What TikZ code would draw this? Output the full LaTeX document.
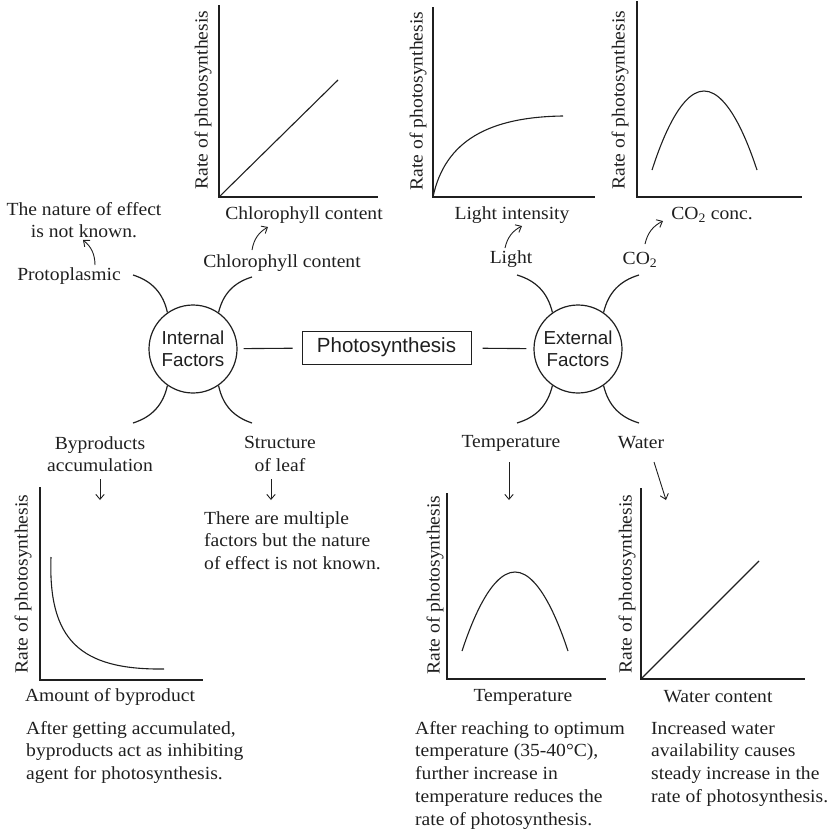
\documentclass[tikz,border=0pt]{standalone}
\usepackage{fontspec}
\setmainfont{Liberation Serif}[FakeStretch=1.06]
\setsansfont{Liberation Sans}
\usetikzlibrary{arrows.meta}
\begin{document}
\begin{tikzpicture}[x=1pt,y=-1pt,
  axis/.style={draw=black!88,line width=1.3pt},
  curve/.style={draw=black!88,line width=1.1pt},
  txt/.style={font=\fontsize{18.5}{22.7}\selectfont,text=black!88,inner sep=0pt},
  ylab/.style={txt,rotate=90},
  factor/.style={circle,draw=black!88,line width=1.2pt,minimum size=88pt,inner sep=0pt,
    align=center,text=black!88,font=\sffamily\fontsize{18.8}{22}\selectfont},
  title/.style={draw=black!88,line width=1pt,minimum width=169pt,minimum height=33pt,
    inner sep=0pt,text=black!88,font=\sffamily\fontsize{20.5}{24}\selectfont},
  limb/.style={draw=black!88,line width=1.2pt},
  link/.style={draw=black!88,line width=1.1pt},
  ptr/.style={draw=black!88,line width=0.9pt,-{Straight Barb[length=5pt,width=8.5pt,line width=0.9pt]}},
]
\useasboundingbox (0,0) rectangle (838,830);

% ---------- centre: factors and the process ----------
\node[factor] (int) at (193,349) {Internal\\Factors};
\node[factor] (ext) at (578,349) {External\\Factors};
\node[title] (ps) at (386.5,347.5) {Photosynthesis};
\draw[link,shorten <=6pt,shorten >=9pt] (int) -- (ps);
\draw[link,shorten <=11pt,shorten >=7pt] (ps) -- (ext);

% limbs of the internal factors
\coordinate (iUL) at (133,275);
\coordinate (iUR) at (252,277);
\coordinate (iLL) at (133,423);
\coordinate (iLR) at (252,423);
\draw[limb] (iUL) to[bend left=30] (int.125);
\draw[limb] (iUR) to[bend right=30] (int.55);
\draw[limb] (iLL) to[bend right=30] (int.235);
\draw[limb] (iLR) to[bend left=30] (int.305);

% limbs of the external factors
\coordinate (eUL) at (517,275);
\coordinate (eUR) at (639,275);
\coordinate (eLL) at (517,423);
\coordinate (eLR) at (639,423);
\draw[limb] (eUL) to[bend left=30] (ext.125);
\draw[limb] (eUR) to[bend right=30] (ext.55);
\draw[limb] (eLL) to[bend right=30] (ext.235);
\draw[limb] (eLR) to[bend left=30] (ext.305);

% ---------- factor names ----------
\node[txt] (proto) at (69,276) {Protoplasmic};
\node[txt] (chl) at (282,263) {Chlorophyll content};
\node[txt] (light) at (511,259) {Light};
\node[txt] (co2) at (640,260) {CO\textsubscript{2}};
\node[txt,align=center,anchor=north] (byp) at (100,436) {Byproducts\\accumulation};
\node[txt,align=center,anchor=north] (leaf) at (280,436) {Structure\\of leaf};
\node[txt] (temp) at (511,443) {Temperature};
\node[txt] (water) at (641,443) {Water};

\node[txt,align=center,anchor=north] (nature) at (84,202) {The nature of effect\\is not known.};
\node[txt,align=left,anchor=north west] (leafnote) at (204,511)
  {There are multiple\\factors but the nature\\of effect is not known.};

% ---------- pointers ----------
\coordinate (pa1) at (95,265);  \coordinate (pa2) at (83,240);
\coordinate (pb1) at (252,250); \coordinate (pb2) at (268,227);
\coordinate (pc1) at (505,248); \coordinate (pc2) at (522,226);
\coordinate (pd1) at (645,244); \coordinate (pd2) at (663,221);
\draw[ptr] (pa1) to[bend right=25] (pa2);
\draw[ptr] (pb1) to[bend left=25] (pb2);
\draw[ptr] (pc1) to[bend left=25] (pc2);
\draw[ptr] (pd1) to[bend left=25] (pd2);

\coordinate (qa1) at (100,479); \coordinate (qa2) at (100,500);
\coordinate (qb1) at (271,479); \coordinate (qb2) at (271,500);
\coordinate (qc1) at (509,462); \coordinate (qc2) at (509,500);
\coordinate (qd1) at (654,462); \coordinate (qd2) at (666,500);
\draw[ptr] (qa1) -- (qa2);
\draw[ptr] (qb1) -- (qb2);
\draw[ptr] (qc1) -- (qc2);
\draw[ptr] (qd1) -- (qd2);

% ---------- graph: chlorophyll content ----------
\draw[axis] (219,5) -- (219,197) -- (378,197);
\draw[curve] (219,197) -- (338,80);
\node[ylab] (y1) at (203,100) {Rate of photosynthesis};
\node[txt] (x1) at (304,215) {Chlorophyll content};

% ---------- graph: light intensity ----------
\draw[axis] (433,7) -- (433,197) -- (595,197);
\draw[curve] (433,197) .. controls (445,140) and (490,117) .. (563,116);
\node[ylab] (y2) at (418,101) {Rate of photosynthesis};
\node[txt] (x2) at (512,215) {Light intensity};

% ---------- graph: CO2 concentration ----------
\draw[axis] (637,1) -- (637,197) -- (802,197);
\draw[curve] (652,170) parabola bend (704,91) (757,170);
\node[ylab] (y3) at (620,100) {Rate of photosynthesis};
\node[txt] (x3) at (712,215) {CO\textsubscript{2} conc.};

% ---------- graph: byproduct ----------
\draw[axis] (40,487) -- (40,680) -- (203,680);
\draw[curve] (51,557) .. controls (48,640) and (80,670) .. (164,669);
\node[ylab] (y4) at (23,584) {Rate of photosynthesis};
\node[txt] (x4) at (110,697) {Amount of byproduct};
\node[txt,align=left,anchor=north west] (n4) at (26,721)
  {After getting accumulated,\\byproducts act as inhibiting\\agent for photosynthesis.};

% ---------- graph: temperature ----------
\draw[axis] (447,493) -- (447,679) -- (606,679);
\draw[curve] (462,651) parabola bend (515,572) (568,651);
\node[ylab] (y5) at (435,585) {Rate of photosynthesis};
\node[txt] (x5) at (523,697) {Temperature};
\node[txt,align=left,anchor=north west] (n5) at (415,721)
  {After reaching to optimum\\temperature (35-40°C),\\further increase in\\temperature reduces the\\rate of photosynthesis.};

% ---------- graph: water content ----------
\draw[axis] (641,488) -- (641,679) -- (805,679);
\draw[curve] (641,679) -- (759,561);
\node[ylab] (y6) at (627,584) {Rate of photosynthesis};
\node[txt] (x6) at (718,697) {Water content};
\node[txt,align=left,anchor=north west] (n6) at (651,721)
  {Increased water\\availability causes\\steady increase in the\\rate of photosynthesis.};
\end{tikzpicture}
\end{document}
